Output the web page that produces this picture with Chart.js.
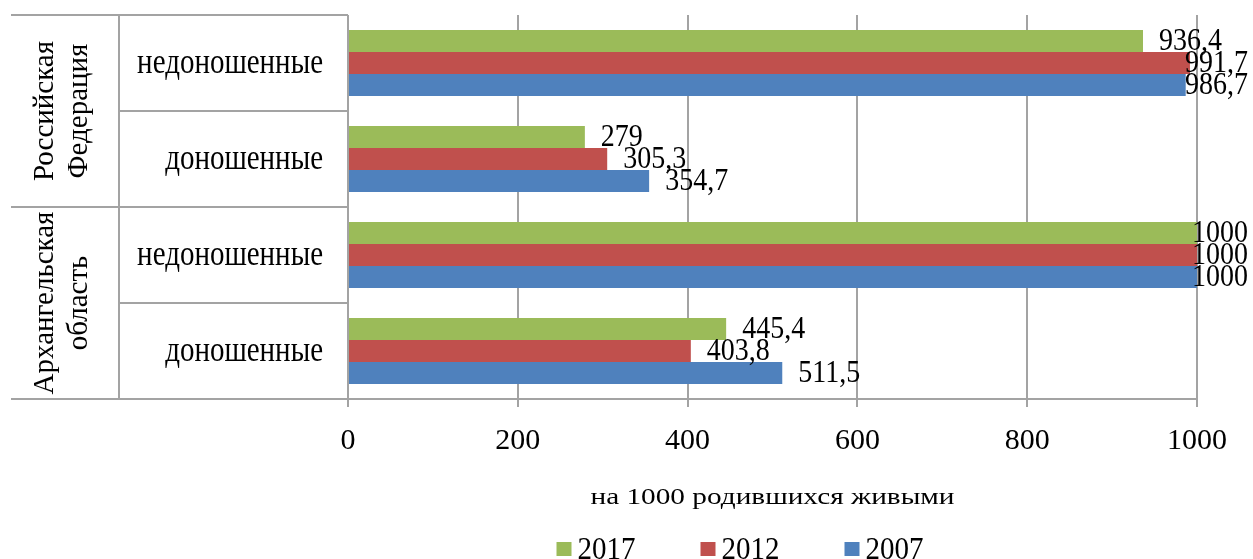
<!DOCTYPE html>
<html lang="ru">
<head>
<meta charset="utf-8">
<script src="https://cdn.jsdelivr.net/npm/chart.js@4/dist/chart.umd.min.js"></script>
<style>
  html, body { margin: 0; padding: 0; background: #fff; overflow: hidden; }
  #wrap { width: 1253px; height: 559px; position: relative; }
</style>
</head>
<body>
<div id="wrap"><canvas id="chart" width="1253" height="559"></canvas></div>
<script>
// Categories (top to bottom) and the regions they belong to
const categories = ['недоношенные', 'доношенные', 'недоношенные', 'доношенные'];
const groups = [
  ['Российская', 'Федерация'],
  ['Архангельская', 'область']
];
const groupSpan = 2; // categories per region

// Values per 1000 live births
const years = ['2017', '2012', '2007'];
const values2017 = [936.4, 279, 1000, 445.4];
const values2012 = [991.7, 305.3, 1000, 403.8];
const values2007 = [986.7, 354.7, 1000, 511.5];

const xTicks = [0, 200, 400, 600, 800, 1000];
const xTitle = 'на 1000 родившихся живыми';

const colors = ['#9BBB59', '#C0504D', '#4F81BD'];
const FONT = '"Liberation Serif", "Times New Roman", serif';
const GRID = '#a3a3a3';

const fmt = v => String(v).replace('.', ',');

// Draws text around (x, y) with independent horizontal / vertical scaling
function scaledText(ctx, txt, x, y, sx, sy) {
  ctx.save();
  ctx.translate(x, y);
  ctx.scale(sx, sy);
  ctx.fillText(txt, 0, 0);
  ctx.restore();
}

// Left-hand two-level category table: regions, categories and their dividers
const categoryTable = {
  id: 'categoryTable',
  afterDraw(chart) {
    const { ctx, chartArea } = chart;
    const y = chart.scales.y;
    const left = 11, split = 119, right = chartArea.left;
    const band = y.getPixelForValue(1) - y.getPixelForValue(0);
    const edge = i => y.getPixelForValue(i) - band / 2;
    ctx.save();
    ctx.strokeStyle = GRID;
    ctx.lineWidth = 2;
    ctx.beginPath();
    for (let i = 0; i <= categories.length; i++) {
      const py = Math.round(edge(i));
      const x0 = (i % groupSpan === 0) ? left : split;
      ctx.moveTo(x0, py);
      ctx.lineTo(right, py);
    }
    ctx.moveTo(split, Math.round(edge(0)));
    ctx.lineTo(split, Math.round(edge(categories.length)));
    ctx.stroke();

    ctx.fillStyle = '#000';
    ctx.font = '29px ' + FONT;
    ctx.textAlign = 'right';
    ctx.textBaseline = 'middle';
    categories.forEach((c, i) => scaledText(ctx, c, 323, y.getPixelForValue(i) + 1, 1, 1.2));

    ctx.textAlign = 'center';
    groups.forEach((lines, g) => {
      const cy = (edge(g * groupSpan) + edge((g + 1) * groupSpan)) / 2;
      ctx.save();
      ctx.translate(62, cy);
      ctx.rotate(-Math.PI / 2);
      lines.forEach((t, k) => ctx.fillText(t, 0, (k - (lines.length - 1) / 2) * 34));
      ctx.restore();
    });
    ctx.restore();
  }
};

// Value labels just past the end of each bar, kept inside the canvas
const valueLabels = {
  id: 'valueLabels',
  afterDatasetsDraw(chart) {
    const { ctx } = chart;
    ctx.save();
    ctx.font = '28px ' + FONT;
    ctx.fillStyle = '#000';
    ctx.textAlign = 'left';
    ctx.textBaseline = 'middle';
    chart.data.datasets.forEach((ds, di) => {
      chart.getDatasetMeta(di).data.forEach((bar, i) => {
        const txt = fmt(ds.data[i]);
        const w = ctx.measureText(txt).width;
        const x = Math.min(bar.x + 16, chart.width - 5 - w);
        scaledText(ctx, txt, x, bar.y + 1, 1, 1.1);
      });
    });
    ctx.restore();
  }
};

// Axis title and legend row under the value axis
const bottomText = {
  id: 'bottomText',
  afterDraw(chart) {
    const { ctx, chartArea } = chart;
    ctx.save();
    ctx.fillStyle = '#000';
    ctx.textBaseline = 'middle';
    ctx.textAlign = 'center';
    ctx.font = '24px ' + FONT;
    scaledText(ctx, xTitle, (chartArea.left + chartArea.right) / 2, 498, 1.22, 1);

    ctx.font = '29px ' + FONT;
    ctx.textAlign = 'left';
    const box = 15, gap = 6, spacing = 65;
    const items = chart.data.datasets.map(d => ({ t: d.label, c: d.backgroundColor, w: ctx.measureText(d.label).width }));
    const total = items.reduce((s, it) => s + box + gap + it.w, 0) + spacing * (items.length - 1);
    let x = 740 - total / 2;
    const cy = 550;
    items.forEach(it => {
      ctx.fillStyle = it.c;
      ctx.fillRect(x, cy - 8, box, 14);
      ctx.fillStyle = '#000';
      scaledText(ctx, it.t, x + box + gap, cy + 1, 1, 1.08);
      x += box + gap + it.w + spacing;
    });
    ctx.restore();
  }
};

new Chart(document.getElementById('chart'), {
  type: 'bar',
  data: {
    labels: categories.map((c, i) => i),
    datasets: [
      { label: years[0], data: values2017, backgroundColor: colors[0] },
      { label: years[1], data: values2012, backgroundColor: colors[1] },
      { label: years[2], data: values2007, backgroundColor: colors[2] }
    ]
  },
  options: {
    indexAxis: 'y',
    responsive: false,
    animation: false,
    devicePixelRatio: 1,
    layout: { padding: { top: 15, right: 56, bottom: 40, left: 0 } },
    datasets: { bar: { categoryPercentage: 0.6875, barPercentage: 1.0, borderWidth: 0 } },
    scales: {
      y: {
        type: 'category',
        ticks: { display: false },
        grid: { display: false },
        border: { display: false },
        afterFit(scale) { scale.width = 348; }
      },
      x: {
        min: 0,
        max: 1000,
        afterBuildTicks(scale) { scale.ticks = xTicks.map(v => ({ value: v })); },
        ticks: {
          color: '#000',
          font: { family: FONT, size: 30 },
          padding: 16,
          maxRotation: 0,
          callback: v => String(v)
        },
        grid: { color: GRID, lineWidth: 2, tickLength: 8, drawOnChartArea: true },
        border: { display: true, color: GRID, width: 2 },
        title: { display: false },
        afterFit(scale) { scale.height = 120; }
      }
    },
    plugins: {
      legend: { display: false },
      tooltip: { enabled: false }
    }
  },
  plugins: [categoryTable, valueLabels, bottomText]
});
</script>
</body>
</html>
